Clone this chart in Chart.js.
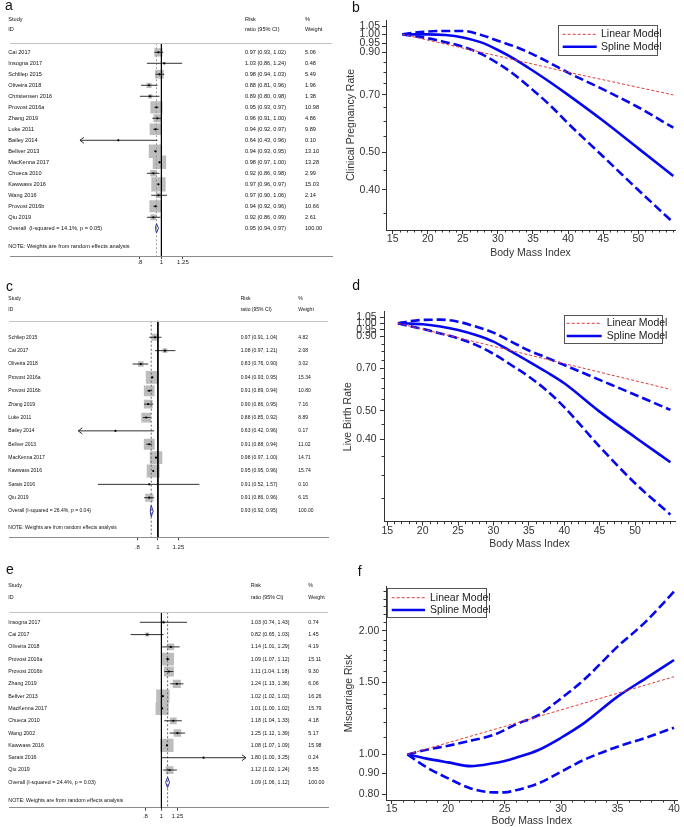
<!DOCTYPE html>
<html><head><meta charset="utf-8">
<script src="https://cdn.jsdelivr.net/npm/chart.js@4.4.1/dist/chart.umd.min.js"></script>
<style>
html,body{margin:0;padding:0;background:#fff;}
body{width:684px;height:827px;position:relative;overflow:hidden;}
canvas{position:absolute;}
</style></head><body>
<canvas id="ca" width="345" height="275" style="left:0;top:0"></canvas>
<canvas id="cc" width="345" height="280" style="left:0;top:275px"></canvas>
<canvas id="ce" width="345" height="272" style="left:0;top:555px"></canvas>
<canvas id="cb" width="339" height="275" style="left:345px;top:0"></canvas>
<canvas id="cd" width="342" height="275" style="left:342px;top:275px"></canvas>
<canvas id="cf" width="341" height="277" style="left:343px;top:550px"></canvas>
<script>
// ---------- Forest plot data ----------
const forest_ticks = [0.8, 1, 1.25];
const forest_tick_labels = ['.8', '1', '1.25'];

const a_study = ['Cai 2017','Insogna 2017','Schlilep 2015','Oliveira 2018','Christensen 2016','Provost 2016a','Zhang 2019','Luke 2011','Bailey 2014','Bellver 2013','MacKenna 2017','Chueca 2010','Kawwass 2016','Wang 2016','Provost 2016b','Qiu 2019'];
const a_rr = [0.97,1.03,0.98,0.88,0.89,0.95,0.96,0.94,0.64,0.94,0.98,0.92,0.97,0.97,0.94,0.92];
const a_lo = [0.93,0.86,0.94,0.81,0.80,0.93,0.91,0.92,0.43,0.93,0.97,0.86,0.96,0.90,0.92,0.86];
const a_hi = [1.02,1.24,1.03,0.96,0.98,0.97,1.00,0.97,0.96,0.95,1.00,0.98,0.97,1.06,0.96,0.99];
const a_wt = [5.06,0.48,5.49,1.96,1.38,10.98,4.86,9.89,0.10,13.10,13.28,2.99,15.03,2.14,10.66,2.61];
const a_arrow = ['','','','','','','','','L','','','','','','',''];
const a_overall = [0.95, 0.94, 0.97];
const a_overall_label = 'Overall  (I-squared = 14.1%, p = 0.05)';

const c_study = ['Schliep 2015','Cai 2017','Oliveira 2018','Provost 2016a','Provost 2016b','Zhang 2019','Luke 2011','Bailey 2014','Bellver 2013','MacKenna 2017','Kawwass 2016','Sarais 2016','Qiu 2019'];
const c_rr = [0.97,1.08,0.83,0.94,0.91,0.90,0.88,0.63,0.91,0.98,0.95,0.91,0.91];
const c_lo = [0.91,0.97,0.76,0.93,0.89,0.86,0.85,0.42,0.88,0.97,0.95,0.52,0.86];
const c_hi = [1.04,1.21,0.90,0.95,0.94,0.95,0.92,0.96,0.94,1.00,0.96,1.57,0.96];
const c_wt = [4.82,2.08,3.02,15.34,10.80,7.16,8.89,0.17,11.02,14.71,15.74,0.10,6.15];
const c_arrow = ['','','','','','','','L','','','','',''];
const c_overall = [0.93, 0.92, 0.95];
const c_overall_label = 'Overall (I-squared = 26.4%, p = 0.04)';

const e_study = ['Insogna 2017','Cai 2017','Oliveira 2018','Provost 2016a','Provost 2016b','Zhang 2019','Bellver 2013','MacKenna 2017','Chueca 2010','Wang 2002','Kawwass 2016','Sarais 2016','Qiu 2019'];
const e_rr = [1.03,0.82,1.14,1.09,1.11,1.24,1.02,1.01,1.18,1.25,1.08,1.80,1.12];
const e_lo = [0.74,0.65,1.01,1.07,1.04,1.13,1.02,1.00,1.04,1.12,1.07,1.00,1.02];
const e_hi = [1.43,1.03,1.29,1.12,1.18,1.36,1.02,1.02,1.33,1.39,1.09,3.25,1.24];
const e_wt = [0.74,1.45,4.19,15.11,9.30,6.06,16.26,15.79,4.18,5.17,15.98,0.24,5.55];
const e_arrow = ['','','','','','','','','','','','R',''];
const e_overall = [1.09, 1.06, 1.12];
const e_overall_label = 'Overall (I-squared = 24.4%, p = 0.03)';

// ---------- Dose-response data ----------
const b_bmi    = [16.4, 18, 20, 22.5, 25, 27.5, 30, 32.5, 35, 37.5, 40, 45, 50, 55];
const b_spline = [1.0, 1.0, 1.0, 0.996, 0.982, 0.955, 0.912, 0.862, 0.807, 0.753, 0.70, 0.601, 0.511, 0.434];
const b_upper  = [1.0, 1.01, 1.017, 1.02, 1.02, 0.998, 0.963, 0.929, 0.889, 0.843, 0.798, 0.723, 0.651, 0.577];
const b_lower  = [1.0, 0.99, 0.977, 0.955, 0.93, 0.893, 0.843, 0.785, 0.72, 0.657, 0.592, 0.487, 0.40, 0.33];
const b_lin_bmi = [16.4, 30, 40, 55];
const b_lin     = [1.0, 0.88, 0.80, 0.70];
const b_xticks = [15, 20, 25, 30, 35, 40, 45, 50];
const b_yticks = [0.40, 0.50, 0.70, 0.90, 0.95, 1.00, 1.05];
const b_ytick_labels = ['0.40','0.50','0.70','0.90','0.95','1.00','1.05'];

const d_bmi    = [16.5, 18, 20, 22.5, 25, 27.5, 30, 32.5, 35, 37.5, 40, 45, 50, 55];
const d_spline = [1.0, 0.998, 0.992, 0.975, 0.949, 0.912, 0.865, 0.80, 0.739, 0.68, 0.622, 0.497, 0.406, 0.333];
const d_upper  = [1.0, 1.015, 1.027, 1.029, 1.013, 0.974, 0.929, 0.865, 0.806, 0.762, 0.719, 0.639, 0.568, 0.504];
const d_lower  = [1.0, 0.98, 0.956, 0.922, 0.888, 0.843, 0.785, 0.719, 0.656, 0.588, 0.515, 0.377, 0.282, 0.22];
const d_lin_bmi = [16.5, 30, 40, 55];
const d_lin     = [1.0, 0.834, 0.727, 0.593];
const d_xticks = [15, 20, 25, 30, 35, 40, 45, 50];
const d_yticks = [0.40, 0.50, 0.70, 0.90, 0.95, 1.00, 1.05];
const d_ytick_labels = ['0.40','0.50','0.70','0.90','0.95','1.00','1.05'];

const f_bmi    = [16.4, 18, 20, 22, 24, 25, 26, 28, 30, 32, 35, 37.5, 40];
const f_spline = [1.0, 0.978, 0.956, 0.936, 0.951, 0.963, 0.981, 1.025, 1.098, 1.19, 1.383, 1.533, 1.699];
const f_upper  = [1.0, 1.025, 1.05, 1.08, 1.115, 1.147, 1.184, 1.247, 1.37, 1.518, 1.832, 2.108, 2.496];
const f_lower  = [1.0, 0.933, 0.874, 0.826, 0.808, 0.808, 0.818, 0.85, 0.907, 0.969, 1.044, 1.098, 1.162];
const f_lin_bmi = [16.4, 25, 40];
const f_lin     = [1.0, 1.17, 1.547];
const f_xticks = [15, 20, 25, 30, 35, 40];
const f_yticks = [0.80, 0.90, 1.00, 1.50, 2.00];
const f_ytick_labels = ['0.80','0.90','1.00','1.50','2.00'];

// ---------- Common ----------
Chart.defaults.font.family = "'Liberation Sans', Arial, sans-serif";
Chart.defaults.animation = false;
Chart.defaults.events = [];
Chart.defaults.plugins.legend.display = false;
Chart.defaults.plugins.tooltip.enabled = false;
Chart.defaults.devicePixelRatio = 1;
const NARROW = "'Liberation Sans Narrow', 'Arial Narrow', 'Liberation Sans', Arial, sans-serif";

function forestChart(id, D, L) {
  const lg = Math.log;
  const n = D.study.length;
  const SMALL = L.fs + "px 'Liberation Sans', Arial, sans-serif";
  const ds = [];
  ds.push({data: D.rr.map((v,i)=>({x:lg(v), y:i})), pointStyle:'rect',
    pointRadius: c => L.box*Math.sqrt(D.wt[c.dataIndex])/Math.SQRT2,
    backgroundColor:'#bdbdbd', borderWidth:0, order:10});
  D.rr.forEach((v,i)=>ds.push({data:[{x:lg(D.lo[i]),y:i},{x:lg(D.hi[i]),y:i}], showLine:true,
    borderColor:'#1a1a1a', borderWidth:0.9, pointRadius:0, order:5}));
  ds.push({data: D.rr.map((v,i)=>({x:lg(v), y:i})), pointStyle:'circle', pointRadius:1.1,
    backgroundColor:'#000', borderWidth:0, order:1});
  ds.push({data:[{x:0,y:L.ymin},{x:0,y:L.ymax}], showLine:true, borderColor:'#000', borderWidth:1, pointRadius:0, order:4});
  ds.push({data:[{x:lg(D.ov[0]),y:L.ymin},{x:lg(D.ov[0]),y:L.ymax}], showLine:true, borderColor:L.dashColor,
    borderWidth:1, borderDash:[2,2], pointRadius:0, order:6});
  ds.push({data:[{x:lg(D.ov[1]),y:n},{x:lg(D.ov[0]),y:n-0.42},{x:lg(D.ov[2]),y:n},{x:lg(D.ov[0]),y:n+0.42},{x:lg(D.ov[1]),y:n}],
    showLine:true, borderColor:'#2d2d8f', borderWidth:1, pointRadius:0, order:2});

  const fmt = (r,l,h)=> r.toFixed(2)+' ('+l.toFixed(2)+', '+h.toFixed(2)+')';
  const textPlugin = {
    id:'ftext',
    afterDraw(chart){
      const ctx = chart.ctx, ys = chart.scales.y, xs = chart.scales.x, ca = chart.chartArea;
      ctx.save();
      ctx.strokeStyle = '#c4c4c4'; ctx.lineWidth = 1;
      ctx.beginPath(); const sy = Math.round(ca.top)+0.5;
      ctx.moveTo(ca.left, sy); ctx.lineTo(ca.right, sy); ctx.stroke();
      ctx.strokeStyle = '#1a1a1a'; ctx.lineWidth = 0.9; ctx.beginPath();
      D.arrow.forEach((a,i)=>{ if(!a) return;
        const y = ys.getPixelForValue(i);
        const x = xs.getPixelForValue(lg(a==='L'?D.lo[i]:D.hi[i]));
        const s = a==='L'?1:-1;
        ctx.moveTo(x+4*s, y-3); ctx.lineTo(x, y); ctx.lineTo(x+4*s, y+3);
      });
      ctx.stroke();
      ctx.fillStyle = '#111'; ctx.font = SMALL; ctx.textBaseline = 'middle'; ctx.textAlign = 'left';
      ctx.fillText('Study', L.xLabel, L.h1); ctx.fillText('ID', L.xLabel, L.h2);
      ctx.fillText('Risk', L.xRR, L.h1); ctx.fillText('ratio (95% CI)', L.xRR, L.h2);
      ctx.fillText('%', L.xWt, L.h1); ctx.fillText('Weight', L.xWt, L.h2);
      D.study.forEach((s,i)=>{
        const y = ys.getPixelForValue(i);
        ctx.fillText(s, L.xLabel, y);
        ctx.fillText(fmt(D.rr[i],D.lo[i],D.hi[i]), L.xRR, y);
        ctx.fillText(D.wt[i].toFixed(2), L.xWt, y);
      });
      const yo = ys.getPixelForValue(n);
      ctx.fillText(D.ovLabel, L.xLabel, yo);
      ctx.fillText(fmt(D.ov[0],D.ov[1],D.ov[2]), L.xRR, yo);
      ctx.fillText('100.00', L.xWt, yo);
      ctx.fillText('NOTE: Weights are from random effects analysis', L.xLabel, ys.getPixelForValue(L.noteRow));
      ctx.font = "14px 'Liberation Sans', Arial, sans-serif"; ctx.textBaseline = 'alphabetic';
      ctx.fillText(L.letter, L.lx, L.ly);
      ctx.restore();
    }
  };
  return new Chart(document.getElementById(id), {
    type:'scatter',
    data:{datasets:ds},
    options:{
      responsive:false,
      layout:{padding:{left:L.pl, right:L.pr, top:L.pt, bottom:0}},
      scales:{
        x:{type:'linear', min:L.xmin, max:L.xmax,
          afterBuildTicks: s => { s.ticks = forest_ticks.map(v=>({value:Math.log(v)})); },
          afterFit: s => { s.height = L.axisH; },
          ticks:{callback:(v,i)=>forest_tick_labels[i], font:{size:6}, color:'#222', padding:L.tp, maxRotation:0, autoSkip:false},
          grid:{drawOnChartArea:false, drawTicks:true, tickLength:3, color:'#444'},
          border:{display:true, color:'#8c8c8c', width:1}},
        y:{type:'linear', reverse:true, min:L.ymin, max:L.ymax, display:false}
      }
    },
    plugins:[textPlugin]
  });
}

forestChart('ca', {study:a_study, rr:a_rr, lo:a_lo, hi:a_hi, wt:a_wt, arrow:a_arrow, ov:a_overall, ovLabel:a_overall_label},
  {box:3.69, fs:5.6, ymin:-0.818, ymax:18.52, noteRow:17.67, pl:5, pr:13, pt:43.3, axisH:19, tp:0,
   xmin:-1.568, xmax:1.768, xLabel:8.3, xRR:245, xWt:305, h1:19, h2:29.5, letter:'a', lx:5, ly:10, dashColor:'#9a9a9a'});
forestChart('cc', {study:c_study, rr:c_rr, lo:c_lo, hi:c_hi, wt:c_wt, arrow:c_arrow, ov:c_overall, ovLabel:c_overall_label},
  {box:3.27, fs:5.0, ymin:-1.24, ymax:14.96, noteRow:14.21, pl:5, pr:17, pt:45.7, axisH:17.7, tp:3,
   xmin:-1.620, xmax:1.853, xLabel:8.3, xRR:240.7, xWt:298.3, h1:23.3, h2:35, letter:'c', lx:6, ly:16, dashColor:'#666'});
forestChart('ce', {study:e_study, rr:e_rr, lo:e_lo, hi:e_hi, wt:e_wt, arrow:e_arrow, ov:e_overall, ovLabel:e_overall_label},
  {box:3.3, fs:5.3, ymin:-0.81, ymax:15.06, noteRow:14.49, pl:8, pr:17, pt:57.3, axisH:19.3, tp:2,
   xmin:-2.121, xmax:2.324, xLabel:8.3, xRR:250.7, xWt:308.3, h1:30.7, h2:42.7, letter:'e', lx:6, ly:18.5, dashColor:'#666'});

// ---------- Dose-response charts ----------
const BLUE = '#0707ef', RED = '#e23b3b';
function curveChart(id, P, L) {
  const pts = (xs, ys) => xs.map((x,i)=>({x, y:ys[i]}));
  const ds = [
    {label:'Linear Model', data:pts(P.linBmi, P.lin), borderColor:RED, borderWidth:1, borderDash:[3,2], pointRadius:0, tension:0, order:1},
    {label:'Spline Model', data:pts(P.bmi, P.spline), borderColor:BLUE, borderWidth:2.6, pointRadius:0, cubicInterpolationMode:'monotone', order:2},
    {label:'', data:pts(P.bmi, P.upper), borderColor:BLUE, borderWidth:2.6, borderDash:[9,4], pointRadius:0, cubicInterpolationMode:'monotone', order:3},
    {label:'', data:pts(P.bmi, P.lower), borderColor:BLUE, borderWidth:2.6, borderDash:[9,4], pointRadius:0, cubicInterpolationMode:'monotone', order:4}
  ];
  const deco = {
    id:'deco',
    afterDraw(chart){
      const ctx = chart.ctx, ca = chart.chartArea, xs = chart.scales.x, ys = chart.scales.y;
      ctx.save();
      ctx.strokeStyle = '#333'; ctx.lineWidth = 1; ctx.beginPath();
      for (let v = Math.ceil(xs.min); v <= xs.max; v++) {
        if (P.xticks.includes(v)) continue;
        const px = Math.round(xs.getPixelForValue(v))+0.5;
        ctx.moveTo(px, ca.bottom); ctx.lineTo(px, ca.bottom+2.5);
      }
      for (let k = Math.ceil(ys.min/L.minorStep - 1e-6); k*L.minorStep <= ys.max; k++) {
        const v = k*L.minorStep;
        if (P.yticks.some(t=>Math.abs(t-v)<1e-6)) continue;
        const py = Math.round(ys.getPixelForValue(v))+0.5;
        ctx.moveTo(ca.left-2.5, py); ctx.lineTo(ca.left, py);
      }
      ctx.stroke();
      const G = L.legend;
      ctx.fillStyle = '#fff'; ctx.fillRect(G.x, G.y, G.w, G.h);
      ctx.strokeStyle = '#555'; ctx.lineWidth = 1;
      ctx.strokeRect(Math.round(G.x)+0.5, Math.round(G.y)+0.5, Math.round(G.w), Math.round(G.h));
      [0,1].forEach((di,k)=>{
        const d = chart.data.datasets[di];
        const y = G.rows[k];
        ctx.beginPath(); ctx.strokeStyle = d.borderColor; ctx.lineWidth = d.borderWidth;
        ctx.setLineDash(d.borderDash || []);
        ctx.moveTo(G.s0, y); ctx.lineTo(G.s1, y); ctx.stroke();
        ctx.setLineDash([]);
        ctx.fillStyle = '#222'; ctx.font = "10.5px " + NARROW; ctx.textBaseline = 'middle';
        ctx.fillText(d.label, G.tx, y);
      });
      ctx.fillStyle = '#111'; ctx.font = "14px 'Liberation Sans', Arial, sans-serif"; ctx.textBaseline = 'alphabetic';
      ctx.fillText(L.letter, L.lx, L.ly);
      ctx.restore();
    }
  };
  return new Chart(document.getElementById(id), {
    type:'line',
    data:{datasets:ds},
    options:{
      responsive:false,
      layout:{padding:{left:0, right:L.pr, top:L.pt, bottom:0}},
      scales:{
        x:{type:'linear', min:L.xmin, max:L.xmax,
          afterBuildTicks: s => { s.ticks = P.xticks.map(v=>({value:v})); },
          afterFit: s => { s.height = L.xh; },
          ticks:{callback:(v)=>String(v), font:{size:10.5, family:NARROW}, color:'#333', padding:-1, maxRotation:0, autoSkip:false},
          grid:{drawOnChartArea:false, drawTicks:true, tickLength:4, color:'#333'},
          border:{display:true, color:'#333', width:1},
          title:{display:true, text:'Body Mass Index', color:'#333', font:{size:10.5, family:NARROW}, padding:{top:0, bottom:L.xtb}}},
        y:{type:'logarithmic', min:L.ymin, max:L.ymax,
          afterBuildTicks: s => { s.ticks = P.yticks.map(v=>({value:v})); },
          afterFit: s => { s.width = L.yw; },
          ticks:{callback:(v,i)=>P.ylabels[i], font:{size:10.5, family:NARROW}, color:'#333', padding:L.ytp, autoSkip:false},
          grid:{drawOnChartArea:false, drawTicks:true, tickLength:4, color:'#333'},
          border:{display:true, color:'#333', width:1},
          title:{display:true, text:P.ytitle, color:'#333', font:{size:10.5}, padding:{top:0, bottom:0}}}
      }
    },
    plugins:[deco]
  });
}

curveChart('cb', {bmi:b_bmi, spline:b_spline, upper:b_upper, lower:b_lower, linBmi:b_lin_bmi, lin:b_lin,
    xticks:b_xticks, yticks:b_yticks, ylabels:b_ytick_labels, ytitle:'Clinical Pregnancy Rate'},
  {xmin:14.05, xmax:55.24, ymin:0.316, ymax:1.088, pr:9, pt:20, xh:45, yw:41, ytp:2, xtb:15.4, minorStep:0.05,
   legend:{x:213, y:25, w:99, h:30, rows:[34.3,46.7], s0:217.7, s1:251.7, tx:256}, letter:'b', lx:7, ly:12});
curveChart('cd', {bmi:d_bmi, spline:d_spline, upper:d_upper, lower:d_lower, linBmi:d_lin_bmi, lin:d_lin,
    xticks:d_xticks, yticks:d_yticks, ylabels:d_ytick_labels, ytitle:'Live Birth Rate'},
  {xmin:14.534, xmax:55.65, ymin:0.208, ymax:1.096, pr:9, pt:36.7, xh:28.3, yw:42, ytp:3.3, xtb:0, minorStep:0.05,
   legend:{x:222, y:40, w:97.7, h:28, rows:[48.3,61], s0:224.7, s1:259.7, tx:264.7}, letter:'d', lx:10.3, ly:14.5});
curveChart('cf', {bmi:f_bmi, spline:f_spline, upper:f_upper, lower:f_lower, linBmi:f_lin_bmi, lin:f_lin,
    xticks:f_xticks, yticks:f_yticks, ylabels:f_ytick_labels, ytitle:'Miscarriage Risk'},
  {xmin:14.495, xmax:40.30, ymin:0.774, ymax:2.565, pr:6.6, pt:36.7, xh:27, yw:43, ytp:2.7, xtb:0, minorStep:0.1,
   legend:{x:44.3, y:38.3, w:99.4, h:29.4, rows:[47.7,60], s0:48.7, s1:82, tx:87}, letter:'f', lx:14.7, ly:25.7});
</script>
</body></html>
